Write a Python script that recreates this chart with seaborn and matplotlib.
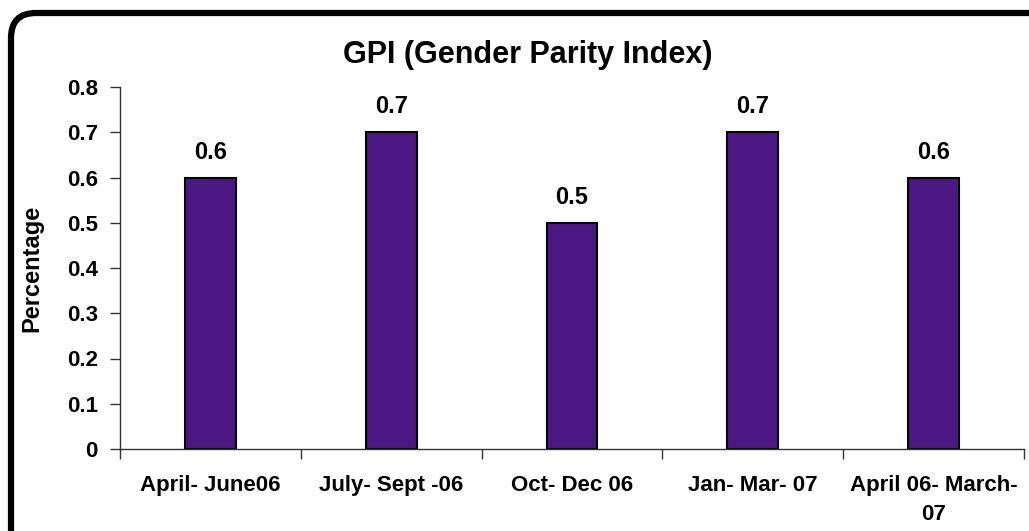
import matplotlib
matplotlib.use("Agg")
import matplotlib.pyplot as plt
import seaborn as sns
import pandas as pd
from matplotlib.patches import FancyBboxPatch

periods = ["April- June06", "July- Sept -06", "Oct- Dec 06", "Jan- Mar- 07", "April 06- March-\n07"]
gpi = [0.6, 0.7, 0.5, 0.7, 0.6]
y_ticks = [0, 0.1, 0.2, 0.3, 0.4, 0.5, 0.6, 0.7, 0.8]
y_tick_labels = ["0", "0.1", "0.2", "0.3", "0.4", "0.5", "0.6", "0.7", "0.8"]

sns.set_style("white")
plt.rcParams["font.family"] = ["Liberation Sans", "DejaVu Sans"]
plt.rcParams["font.weight"] = "bold"
plt.rcParams["text.color"] = "black"
plt.rcParams["axes.labelcolor"] = "black"
plt.rcParams["xtick.color"] = "black"
plt.rcParams["ytick.color"] = "black"

df = pd.DataFrame({"period": periods, "gpi": gpi})

fig = plt.figure(figsize=(10.29, 5.31), dpi=100)
ax = fig.add_axes([120 / 1029, 82 / 531, 904 / 1029, 362 / 531])

sns.barplot(data=df, x="period", y="gpi", order=periods, color="#4a1783",
            saturation=1, width=0.28, edgecolor="black", linewidth=1.5, ax=ax)

for i, v in enumerate(gpi):
    ax.annotate(f"{v}", (i, v), xytext=(0, 10), textcoords="offset points",
                ha="center", va="bottom", fontsize=17, fontweight="bold")

ax.set_xlim(-0.5, len(periods) - 0.5)
ax.set_ylim(0, 0.8)
ax.set_yticks(y_ticks)
ax.set_yticklabels(y_tick_labels, fontsize=16, fontweight="bold")

# ticks at category boundaries, labels at bar centres
ax.set_xticks([i - 0.5 for i in range(len(periods) + 1)])
ax.set_xticklabels([])
ax.set_xticks(range(len(periods)), minor=True)
ax.set_xticklabels(periods, minor=True, fontsize=16, fontweight="bold", linespacing=1.45)
ax.tick_params(axis="x", which="major", direction="out", length=7, width=1, color="#333333", bottom=True)
ax.tick_params(axis="x", which="minor", length=0, pad=19)
ax.tick_params(axis="y", direction="out", length=7, width=1, color="#333333", left=True, pad=9)

ax.set_xlabel("")
ax.set_ylabel("Percentage", fontsize=17, fontweight="bold", labelpad=17)

sns.despine(ax=ax)
for side in ["left", "bottom"]:
    ax.spines[side].set_color("#333333")
    ax.spines[side].set_linewidth(1)

fig.text(528 / 1029, 1 - 55 / 531, "GPI (Gender Parity Index)", ha="center", va="center",
         fontsize=22, fontweight="bold")

# rounded frame around the chart
frame = FancyBboxPatch((0.36, -0.4), 10.1, 5.33, boxstyle="round,pad=0.25,rounding_size=0.25",
                       transform=fig.dpi_scale_trans, facecolor="none", edgecolor="black",
                       linewidth=4.5, clip_on=False)
fig.patches.append(frame)

fig.savefig("out.png", dpi=100)
